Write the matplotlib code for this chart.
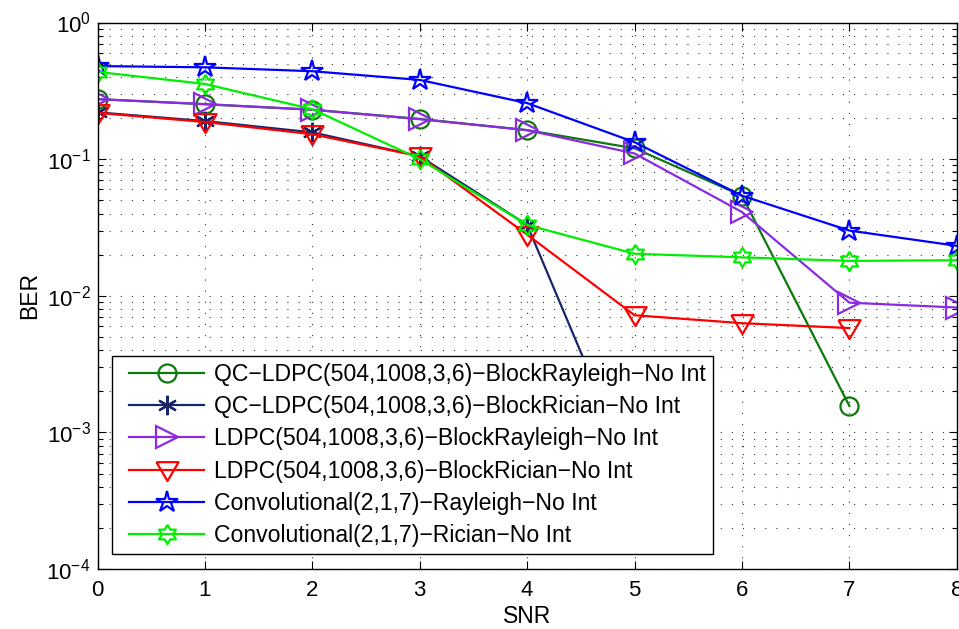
import numpy as np
import matplotlib
matplotlib.use("Agg")
import matplotlib.pyplot as plt
from matplotlib.ticker import LogLocator, FixedLocator, NullFormatter
from matplotlib.legend_handler import HandlerLine2D
from matplotlib.lines import Line2D

plt.rcParams["font.family"] = ["Liberation Sans", "DejaVu Sans"]
plt.rcParams["mathtext.default"] = "regular"

snr = [0, 1, 2, 3, 4, 5, 6, 7, 8]

qc_rayleigh = [0.275, 0.252, 0.230, 0.197, 0.163, 0.120, 0.054, 0.00156]
qc_rician = [0.220, 0.190, 0.157, 0.105, 0.033, 0.00045]
ldpc_rayleigh = [0.275, 0.253, 0.230, 0.196, 0.163, 0.110, 0.041, 0.0089, 0.0082]
ldpc_rician = [0.218, 0.187, 0.152, 0.105, 0.028, 0.0072, 0.0063, 0.0058]
conv_rayleigh = [0.48, 0.47, 0.44, 0.38, 0.257, 0.133, 0.054, 0.030, 0.0232]
conv_rician = [0.435, 0.355, 0.232, 0.100, 0.033, 0.0203, 0.0191, 0.0180, 0.0182]

labels = [
    "QC\u2212LDPC(504,1008,3,6)\u2212BlockRayleigh\u2212No Int",
    "QC\u2212LDPC(504,1008,3,6)\u2212BlockRician\u2212No Int",
    "LDPC(504,1008,3,6)\u2212BlockRayleigh\u2212No Int",
    "LDPC(504,1008,3,6)\u2212BlockRician\u2212No Int",
    "Convolutional(2,1,7)\u2212Rayleigh\u2212No Int",
    "Convolutional(2,1,7)\u2212Rician\u2212No Int",
]

# six-pointed star (hexagram) outline, point up
ang = np.pi / 2 + np.arange(12) * np.pi / 6
rad = np.where(np.arange(12) % 2 == 0, 1.0, 1.0 / np.sqrt(3))
hexagram = np.column_stack([rad * np.cos(ang), rad * np.sin(ang)])
hexagram = np.vstack([hexagram, hexagram[:1]])

# wide downward triangle
tri_down = [(-1.0, 0.75), (1.0, 0.75), (0.0, -0.95), (-1.0, 0.75)]

series = [
    (qc_rayleigh, "#0b7a0b", "o", 13),
    (qc_rician, "#17266b", (6, 2, 0), 14),
    (ldpc_rayleigh, "#8a2be2", ">", 16),
    (ldpc_rician, "#ff0000", tri_down, 16),
    (conv_rayleigh, "#0000ff", "*", 16),
    (conv_rician, "#00ee00", hexagram, 14),
]

fig = plt.figure(figsize=(9.59, 6.29), dpi=100)
ax = fig.add_axes([0.1017, 0.0954, 0.896, 0.8688])

for (vals, color, marker, ms), label in zip(series, labels):
    ax.plot(snr[:len(vals)], vals, color=color, linewidth=1.6, marker=marker,
            markersize=ms, markerfacecolor="none", markeredgecolor=color,
            markeredgewidth=1.6, label=label)

ax.set_yscale("log")
ax.set_xlim(0, 8)
ax.set_ylim(1e-4, 1)
ax.xaxis.set_major_locator(FixedLocator(snr))
ax.yaxis.set_major_locator(LogLocator(base=10, numticks=10))
ax.yaxis.set_minor_locator(LogLocator(base=10, subs=range(2, 10), numticks=10))
ax.yaxis.set_minor_formatter(NullFormatter())

dots = (0, (1, 9))
ax.grid(True, which="major", axis="x", color="#333333", linestyle=dots, linewidth=0.8)
ax.grid(True, which="both", axis="y", color="#333333", linestyle=dots, linewidth=0.8)

ax.tick_params(which="both", direction="in", top=True, right=True, labelsize=16)
ax.tick_params(which="major", length=6, width=0.8)
ax.tick_params(which="minor", length=3.5, width=0.8)
ax.tick_params(axis="x", which="major", pad=8)
ax.tick_params(axis="y", which="major", pad=5)
for s in ax.spines.values():
    s.set_linewidth(1.0)

ax.set_xlabel("SNR", fontsize=16.5, labelpad=3)
ax.set_ylabel("BER", fontsize=16.5, labelpad=4)

handler = HandlerLine2D(xpad=0.45)
leg = ax.legend(loc="lower left", bbox_to_anchor=(0.0169, 0.0274), borderaxespad=0,
                fontsize=16.6, fancybox=False, framealpha=1, edgecolor="black",
                handlelength=3.7, handletextpad=0.43, labelspacing=0.40,
                borderpad=0.3, handler_map={Line2D: handler})
leg.get_frame().set_linewidth(1.0)

fig.savefig("out.png", dpi=100)
